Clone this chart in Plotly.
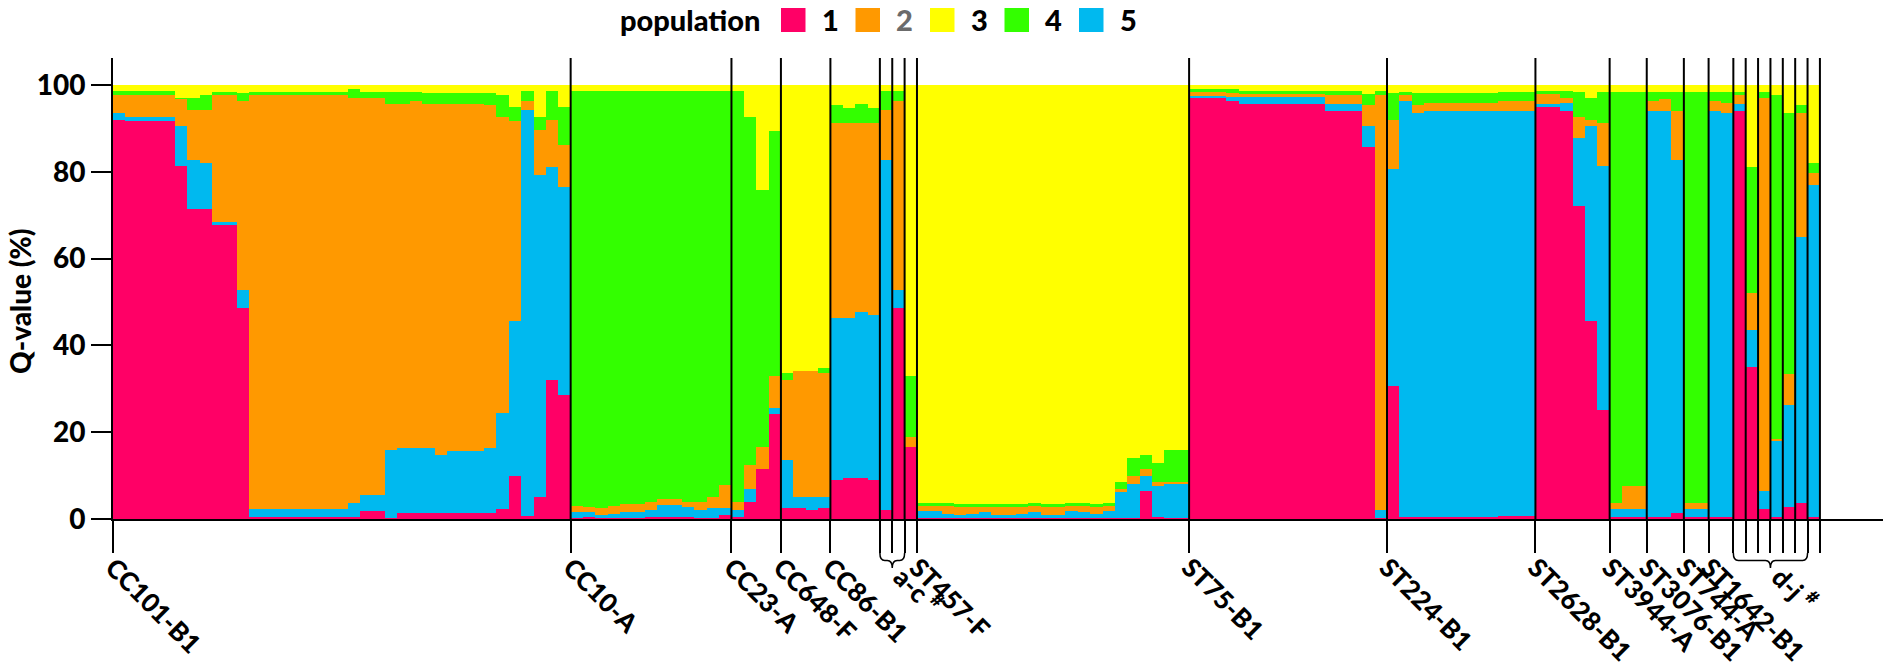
import plotly.graph_objects as go

# ---------------- data (Q-values in %, one value per isolate/bar) ----------------
# stacking order bottom -> top: population 1, 5, 2, 4, 3
pop1 = [  # pink
    91.9, 91.6, 91.6, 91.6, 91.6, 81.4, 71.4, 71.4, 67.8, 67.8, 48.6,
    0.5, 0.5, 0.5, 0.5, 0.5, 0.5, 0.5, 0.5, 0.5, 1.8, 1.8, 0.3,
    1.4, 1.4, 1.4, 1.4, 1.4, 1.4, 1.4, 1.4, 2.2, 10.0, 0.8, 5.1, 32.1, 28.6,
    0.3, 0.5, 0.3, 0.3, 0.3, 0.3, 0.5, 0.5, 0.5, 0.5, 0.3, 0.3, 1.0,
    0.5, 4.0, 11.5, 24.3,
    2.5, 2.5, 2.0, 2.5,
    9.0, 9.5, 9.5, 9.0,
    2.0, 48.6, 16.5,
    0.3, 0.3, 0.3, 0.3, 0.3, 0.3, 0.3, 0.3, 0.3, 0.3, 0.3, 0.3, 0.3, 0.3, 0.3, 0.3,
    0.3, 0.3, 6.5, 0.5, 0.3, 0.3,
    97.0, 97.0, 97.0, 96.2, 95.5, 95.5, 95.5, 95.5, 95.5, 95.5, 95.5, 94.1, 94.1, 94.1, 85.6, 0.3,
    30.7, 0.5, 0.5, 0.5, 0.5, 0.5, 0.5, 0.5, 0.5, 0.8, 0.8, 0.8,
    95.0, 95.0, 94.1, 72.0, 45.5, 25.0,
    0.5, 0.5, 0.5,
    0.5, 0.5, 1.4,
    0.5, 0.5,
    0.5, 0.5,
    94.1, 35.0, 2.2, 0.5, 2.8, 3.7, 0.5,
]
pop5 = [  # blue
    1.6, 1.0, 1.0, 1.0, 1.0, 9.2, 11.3, 10.6, 0.6, 0.6, 4.2,
    1.7, 1.7, 1.7, 1.7, 1.7, 1.7, 1.7, 1.7, 3.1, 3.8, 3.8, 15.5,
    15.0, 15.0, 15.0, 13.4, 14.2, 14.2, 14.2, 15.0, 22.2, 35.5, 93.4, 74.2, 49.1, 47.8,
    1.4, 1.0, 0.7, 0.9, 1.2, 1.2, 1.5, 2.7, 2.7, 2.3, 1.7, 2.2, 1.5,
    1.5, 3.0, 0.0, 1.3,
    11.0, 2.5, 3.0, 2.5,
    37.3, 36.8, 38.3, 38.0,
    80.7, 4.2, 0.0,
    1.5, 1.5, 0.9, 0.7, 0.9, 1.2, 0.7, 0.7, 0.9, 1.2, 0.7, 0.7, 1.5, 1.2, 0.9, 1.5,
    6.0, 7.7, 3.3, 7.0, 7.7, 7.7,
    0.5, 0.5, 0.5, 1.1, 1.7, 1.7, 1.7, 1.7, 1.7, 1.7, 1.7, 1.4, 1.4, 1.4, 5.0, 1.7,
    49.9, 95.7, 93.0, 93.6, 93.6, 93.6, 93.6, 93.6, 93.6, 93.3, 93.3, 93.3,
    0.6, 0.6, 1.7, 15.7, 45.1, 56.4,
    1.7, 1.7, 1.7,
    93.6, 93.6, 81.3,
    1.7, 1.7,
    93.6, 93.0,
    1.5, 8.5, 4.2, 17.4, 23.5, 61.2, 76.5,
]
pop2 = [  # orange
    4.2, 5.1, 5.1, 5.1, 5.1, 6.2, 11.5, 12.2, 29.3, 29.3, 43.4,
    95.5, 95.5, 95.5, 95.5, 95.5, 95.5, 95.5, 95.5, 93.3, 91.5, 91.5, 79.8,
    79.2, 79.8, 79.2, 80.8, 80.0, 80.0, 80.0, 79.0, 68.3, 46.1, 2.0, 10.3, 10.7, 9.8,
    1.2, 1.3, 1.5, 1.8, 2.0, 2.0, 2.0, 1.3, 1.3, 1.2, 2.0, 2.5, 5.3,
    2.0, 5.5, 5.0, 7.3,
    18.6, 29.0, 29.0, 28.6,
    44.9, 44.9, 43.4, 44.2,
    11.5, 43.4, 2.5,
    1.2, 1.2, 1.8, 1.8, 1.6, 1.3, 1.8, 1.8, 1.6, 1.5, 1.8, 1.8, 1.2, 1.5, 1.6, 1.2,
    0.7, 2.0, 1.7, 1.0, 0.5, 0.5,
    0.8, 0.8, 0.8, 0.8, 0.6, 0.6, 0.6, 0.6, 0.6, 0.6, 0.6, 2.2, 2.2, 2.2, 4.8, 95.7,
    11.3, 1.5, 1.9, 1.8, 1.8, 1.8, 1.8, 1.8, 1.8, 2.1, 2.1, 2.1,
    2.2, 2.2, 1.1, 4.8, 1.3, 9.8,
    1.5, 5.5, 5.5,
    2.1, 2.6, 11.4,
    1.5, 1.5,
    2.1, 2.3,
    2.1, 8.5, 90.5, 0.5, 7.2, 28.6, 2.7,
]
pop4 = [  # green
    0.8, 0.8, 0.8, 0.8, 0.8, 0.2, 2.7, 3.5, 0.7, 0.7, 1.9,
    0.6, 0.6, 0.6, 0.6, 0.6, 0.6, 0.6, 0.6, 2.1, 1.2, 1.2, 2.7,
    2.7, 2.1, 2.5, 2.5, 2.5, 2.5, 2.5, 2.7, 5.0, 3.4, 2.3, 3.1, 6.6, 8.6,
    95.6, 95.7, 96.0, 95.5, 95.0, 95.0, 94.5, 94.0, 94.0, 94.5, 94.5, 93.5, 90.7,
    94.5, 80.2, 59.2, 56.4,
    1.5, 0.0, 0.0, 1.3,
    4.2, 3.4, 4.3, 3.4,
    4.3, 2.3, 13.9,
    0.6, 0.6, 0.6, 0.7, 0.7, 0.7, 0.7, 0.7, 0.7, 0.6, 0.7, 0.7, 0.6, 0.6, 0.7, 0.6,
    1.5, 4.0, 3.3, 4.5, 7.3, 7.3,
    0.7, 0.7, 0.7, 0.9, 0.7, 0.7, 0.7, 0.7, 0.7, 0.7, 0.7, 0.8, 0.8, 0.8, 2.4, 0.8,
    6.2, 0.6, 2.7, 2.2, 2.2, 2.2, 2.2, 2.2, 2.2, 2.1, 2.1, 2.1,
    0.7, 0.7, 1.6, 5.8, 5.0, 7.1,
    94.6, 90.6, 90.6,
    2.1, 1.6, 4.2,
    94.6, 94.6,
    2.1, 2.5,
    0.6, 29.2, 1.4, 79.3, 60.0, 1.9, 2.3,
]
pop3 = [  # yellow
    1.5, 1.5, 1.5, 1.5, 1.5, 3.0, 3.1, 2.3, 1.6, 1.6, 1.9,
    1.7, 1.7, 1.7, 1.7, 1.7, 1.7, 1.7, 1.7, 1.0, 1.7, 1.7, 1.7,
    1.7, 1.7, 1.9, 1.9, 1.9, 1.9, 1.9, 1.9, 2.3, 5.0, 1.5, 7.3, 1.5, 5.2,
    1.5, 1.5, 1.5, 1.5, 1.5, 1.5, 1.5, 1.5, 1.5, 1.5, 1.5, 1.5, 1.5,
    1.5, 7.3, 24.3, 10.7,
    66.4, 66.0, 66.0, 65.1,
    4.6, 5.4, 4.5, 5.4,
    1.5, 1.5, 67.1,
    96.4, 96.4, 96.4, 96.5, 96.5, 96.5, 96.5, 96.5, 96.5, 96.4, 96.5, 96.5, 96.4, 96.4, 96.5, 96.4,
    91.5, 86.0, 85.2, 87.0, 84.2, 84.2,
    1.0, 1.0, 1.0, 1.0, 1.5, 1.5, 1.5, 1.5, 1.5, 1.5, 1.5, 1.5, 1.5, 1.5, 2.2, 1.5,
    1.9, 1.7, 1.9, 1.9, 1.9, 1.9, 1.9, 1.9, 1.9, 1.7, 1.7, 1.7,
    1.5, 1.5, 1.5, 1.7, 3.1, 1.7,
    1.7, 1.7, 1.7,
    1.7, 1.7, 1.7,
    1.7, 1.7,
    1.7, 1.7,
    1.7, 18.8, 1.7, 2.3, 6.5, 4.6, 18.0,
]

# groups (sequence types / clonal complexes) and number of isolates in each
group_names = ["CC101-B1", "CC10-A", "CC23-A", "CC648-F", "CC86-B1", "a", "b", "c",
               "ST457-F", "ST75-B1", "ST224-B1", "ST2628-B1", "ST3944-A", "ST3076-B1",
               "ST744-A", "ST1642-B1", "d", "e", "f", "g", "h", "i", "j"]
group_sizes = [37, 13, 4, 4, 4, 1, 1, 1, 22, 16, 12, 6, 3, 3, 2, 2, 1, 1, 1, 1, 1, 1, 1]
bracket_labels = [("a", "c", "a-c"), ("d", "j", "d-j")]

legend_title = "population"
pop_labels = ["1", "2", "3", "4", "5"]
y_ticks = [0, 20, 40, 60, 80, 100]
y_title = "Q-value (%)"

# ---------------- styling ----------------
COL = {"1": "#FF0066", "2": "#FF9900", "3": "#FFFF00", "4": "#33FF00", "5": "#00B9EF"}
W, H = 1890, 668
ML, MR, MT, MB = 113, 7, 58, 149
PW, PH = W - ML - MR, H - MT - MB
XMAX = 143.1
YMAX = 106.2
FONT = "Lato"
WT = 900

def px_x(p):  # pixel -> paper x
    return (p - ML) / PW

def px_y(p):  # pixel -> paper y
    return (H - MB - p) / PH

n = len(pop1)
xs = [i + 0.5 for i in range(n)]

fig = go.Figure()
for key, vals in [("1", pop1), ("5", pop5), ("2", pop2), ("4", pop4), ("3", pop3)]:
    fig.add_trace(go.Bar(x=xs, y=vals, width=1, name=key, showlegend=False,
                         marker=dict(color=COL[key], line=dict(width=0)),
                         hovertemplate="pop " + key + ": %{y}%<extra></extra>"))

# group boundaries
starts = []
acc = 0
for s in group_sizes:
    starts.append(acc)
    acc += s
bounds = starts + [acc]
single = {g for g in group_names if len(g) == 1}
tick_text = [("" if g in single else g) for g in group_names] + [""]

shapes = []
for b in bounds[1:]:
    shapes.append(dict(type="line", xref="x", yref="paper", x0=b, x1=b, y0=0, y1=1,
                       line=dict(color="black", width=2)))

# curly braces under the single-isolate groups
brace_centers = []
brace_text = []
yt, ytip = px_y(553), px_y(568)
for g0, g1, lab in bracket_labels:
    x0 = starts[group_names.index(g0)]
    x1 = starts[group_names.index(g1)]
    xc = (x0 + x1) / 2
    ym = yt - (yt - ytip) * 0.5
    q = min(0.4, (x1 - x0) / 5)
    path = (f"M {x0},{yt} Q {x0},{ym} {x0 + q},{ym} L {xc - q},{ym} "
            f"Q {xc},{ym} {xc},{ytip} Q {xc},{ym} {xc + q},{ym} "
            f"L {x1 - q},{ym} Q {x1},{ym} {x1},{yt}")
    shapes.append(dict(type="path", xref="x", yref="paper", path=path,
                       line=dict(color="black", width=1.5)))
    brace_centers.append(xc + 0.7)
    brace_text.append(lab + " <sup>#</sup>")

# invisible helper trace so that the second x axis (brace labels) is drawn
fig.add_trace(go.Scatter(x=brace_centers, y=[0] * len(brace_centers), xaxis="x2",
                         mode="markers", marker=dict(opacity=0), showlegend=False,
                         hoverinfo="skip"))

# custom legend
annotations = []
annotations.append(dict(text=legend_title, xref="paper", yref="paper", x=px_x(762), y=px_y(20),
                        xanchor="right", yanchor="middle", showarrow=False,
                        font=dict(family=FONT, size=29, color="black", weight=WT)))
for k, lab in enumerate(pop_labels):
    sx = 781 + 74.5 * k
    shapes.append(dict(type="rect", xref="paper", yref="paper",
                       x0=px_x(sx), x1=px_x(sx + 24.5), y0=px_y(32), y1=px_y(8),
                       fillcolor=COL[lab], line=dict(width=0)))
    annotations.append(dict(text=lab, xref="paper", yref="paper", x=px_x(sx + 49), y=px_y(20),
                            xanchor="center", yanchor="middle", showarrow=False,
                            font=dict(family=FONT, size=29, weight=WT,
                                      color="#6b6b6b" if lab == "2" else "black")))

annotations.append(dict(text=y_title, xref="paper", yref="paper", x=px_x(20), y=px_y(302),
                        textangle=-90, xanchor="center", yanchor="middle", showarrow=False,
                        font=dict(family=FONT, size=28, color="black", weight=WT)))

fig.update_layout(
    width=W, height=H, margin=dict(l=ML, r=MR, t=MT, b=MB, autoexpand=False),
    paper_bgcolor="white", plot_bgcolor="white",
    barmode="stack", bargap=0, showlegend=False,
    shapes=shapes, annotations=annotations,
    xaxis=dict(range=[0, XMAX], tickmode="array", tickvals=bounds, ticktext=tick_text,
               ticks="outside", ticklen=32, tickwidth=2, tickcolor="black", automargin=False,
               showline=True, linewidth=2, linecolor="black", showgrid=False, zeroline=False,
               tickangle=45, ticklabelstandoff=-11,
               tickfont=dict(family=FONT, size=26, color="black", weight=WT)),
    xaxis2=dict(range=[0, XMAX], overlaying="x", anchor="y", side="bottom", automargin=False,
                tickmode="array", tickvals=brace_centers, ticktext=brace_text,
                ticks="", showline=False, showgrid=False, zeroline=False,
                tickangle=45, ticklabelstandoff=37,
                tickfont=dict(family=FONT, size=26, color="black", weight=WT)),
    yaxis=dict(range=[0, YMAX], tickmode="array", tickvals=y_ticks, automargin=False,
               ticks="outside", ticklen=20, tickwidth=2, tickcolor="black",
               showline=True, linewidth=2, linecolor="black", showgrid=False, zeroline=False,
               tickfont=dict(family=FONT, size=28, color="black", weight=WT)),
)

fig.write_html("out.html", config={"displayModeBar": False},
               post_script="document.body.style.margin='0px';document.body.style.overflow='hidden';")
